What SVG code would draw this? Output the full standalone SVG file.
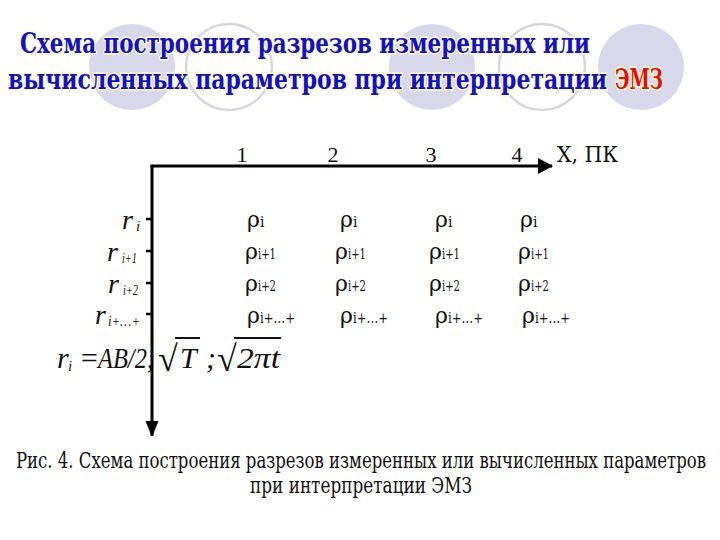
<svg xmlns="http://www.w3.org/2000/svg" width="720" height="540" viewBox="0 0 720 540">
<style>
text{font-family:"DejaVu Serif","Liberation Serif",serif}
.lat{font-family:"Liberation Serif","DejaVu Serif",serif}
.bgf{fill:#d8d8eb;stroke:none}
.bgo{fill:#ffffff;stroke:#d6d6e2;stroke-width:2.5}
.title{font-weight:bold;font-size:28px;fill:#1212c4;stroke:#fffcc8;stroke-width:3;paint-order:stroke;stroke-linejoin:round}
.red{fill:#e01010}
.ax{stroke:#000;stroke-width:3;fill:none}
.tick{stroke:#000;stroke-width:2.5}
.num{font-size:22px;fill:#111}
.rho{font-size:22px;fill:#111}
.sub{font-size:14px;fill:#111}
.r{font-style:italic;font-size:28px;fill:#111}
.rs{font-style:italic;font-size:15px;fill:#111}
.f{font-style:italic;font-size:30px;fill:#111}
.fr{font-size:36px;fill:#111}
.cap{font-size:22px;fill:#111}
</style>
<defs>
<marker id="ah" markerWidth="16" markerHeight="16" refX="14" refY="8" orient="auto" markerUnits="userSpaceOnUse">
<path d="M0,0 L15,8 L0,16 z" fill="#000"/>
</marker>
<marker id="av" markerWidth="14" markerHeight="17" refX="15" refY="6.5" orient="auto" markerUnits="userSpaceOnUse">
<path d="M0,0 L16,6.5 L0,13 z" fill="#000"/>
</marker>
</defs>
<rect width="720" height="540" fill="#ffffff"/>
<g id="background">
<circle class="bgf" cx="132" cy="67" r="43"/>
<circle class="bgo" cx="229" cy="67" r="43"/>
<circle class="bgf" cx="432" cy="67" r="43"/>
<circle class="bgo" cx="542" cy="67" r="43"/>
<circle class="bgf" cx="641" cy="67" r="43"/>
</g>
<g id="title">
<text class="title" x="20" y="53" textLength="570" lengthAdjust="spacingAndGlyphs">Схема построения разрезов измеренных или</text>
<text class="title" y="89"><tspan x="8" textLength="599" lengthAdjust="spacingAndGlyphs">вычисленных параметров при интерпретации</tspan><tspan class="red" x="615" textLength="48" lengthAdjust="spacingAndGlyphs">ЭМЗ</tspan></text>
</g>
<g id="connectors">
<line class="ax" x1="150.5" y1="166" x2="552" y2="166" marker-end="url(#ah)"/>
<line class="ax" x1="152" y1="165" x2="152" y2="436" marker-end="url(#av)"/>
<line class="tick" x1="146" y1="219" x2="152" y2="219"/>
<line class="tick" x1="146" y1="251" x2="152" y2="251"/>
<line class="tick" x1="146" y1="283" x2="152" y2="283"/>
<line class="tick" x1="146" y1="314" x2="152" y2="314"/>
</g>
<g id="x-labels" class="lat">
<text class="num lat" x="242" y="162" text-anchor="middle">1</text>
<text class="num lat" x="333" y="162" text-anchor="middle">2</text>
<text class="num lat" x="431" y="162" text-anchor="middle">3</text>
<text class="num lat" x="517" y="162" text-anchor="middle">4</text>
<text class="num" x="557" y="162" textLength="61" lengthAdjust="spacingAndGlyphs">X, ПК</text>
</g>
<g id="r-labels">
<text class="r lat" x="122" y="229">r<tspan class="rs" x="136" dy="2">i</tspan></text>
<text class="r lat" x="107" y="261">r<tspan class="rs" x="122" dy="2" textLength="15" lengthAdjust="spacingAndGlyphs">i+1</tspan></text>
<text class="r lat" x="108" y="293">r<tspan class="rs" x="123" dy="2" textLength="15" lengthAdjust="spacingAndGlyphs">i+2</tspan></text>
<text class="r lat" x="95" y="324" fill="#333">r<tspan class="rs" x="108" dy="2" textLength="32" lengthAdjust="spacingAndGlyphs" fill="#333">i+…+</tspan></text>
</g>
<g id="rho-row-1">
<text class="rho" x="247" y="227">ρ<tspan class="sub">i</tspan></text>
<text class="rho" x="340" y="227">ρ<tspan class="sub">i</tspan></text>
<text class="rho" x="435" y="227">ρ<tspan class="sub">i</tspan></text>
<text class="rho" x="520" y="227">ρ<tspan class="sub">i</tspan></text>
</g>
<g id="rho-row-2">
<text class="rho" x="245" y="259">ρ<tspan class="sub" textLength="18" lengthAdjust="spacingAndGlyphs">i+1</tspan></text>
<text class="rho" x="335" y="259">ρ<tspan class="sub" textLength="18" lengthAdjust="spacingAndGlyphs">i+1</tspan></text>
<text class="rho" x="429" y="259">ρ<tspan class="sub" textLength="18" lengthAdjust="spacingAndGlyphs">i+1</tspan></text>
<text class="rho" x="518" y="259">ρ<tspan class="sub" textLength="18" lengthAdjust="spacingAndGlyphs">i+1</tspan></text>
</g>
<g id="rho-row-3">
<text class="rho" x="245" y="291">ρ<tspan class="sub" textLength="18" lengthAdjust="spacingAndGlyphs">i+2</tspan></text>
<text class="rho" x="335" y="291">ρ<tspan class="sub" textLength="18" lengthAdjust="spacingAndGlyphs">i+2</tspan></text>
<text class="rho" x="429" y="291">ρ<tspan class="sub" textLength="18" lengthAdjust="spacingAndGlyphs">i+2</tspan></text>
<text class="rho" x="518" y="291">ρ<tspan class="sub" textLength="18" lengthAdjust="spacingAndGlyphs">i+2</tspan></text>
</g>
<g id="rho-row-4">
<text class="rho" x="247" y="323">ρ<tspan class="sub" textLength="35" lengthAdjust="spacingAndGlyphs">i+…+</tspan></text>
<text class="rho" x="340" y="323">ρ<tspan class="sub" textLength="35" lengthAdjust="spacingAndGlyphs">i+…+</tspan></text>
<text class="rho" x="435" y="323">ρ<tspan class="sub" textLength="35" lengthAdjust="spacingAndGlyphs">i+…+</tspan></text>
<text class="rho" x="522" y="323">ρ<tspan class="sub" textLength="35" lengthAdjust="spacingAndGlyphs">i+…+</tspan></text>
</g>
<g id="formula">
<text class="f lat" x="57" y="368">r<tspan class="rs" x="68" dy="3">i</tspan></text>
<text class="f lat" x="79" y="368" font-style="normal">=</text>
<text class="f lat" x="98" y="368" textLength="57" lengthAdjust="spacingAndGlyphs">AB/2;</text>
<text class="fr lat" x="158" y="371">√<tspan class="f" x="180" y="368" font-size="32">T</tspan></text>
<line x1="175" y1="338" x2="200" y2="338" stroke="#111" stroke-width="2"/>
<text class="f lat" x="206" y="368">;</text>
<text class="fr lat" x="217" y="371">√<tspan class="f" x="237" y="368" font-size="32" textLength="43" lengthAdjust="spacingAndGlyphs">2πt</tspan></text>
<line x1="234" y1="338" x2="281" y2="338" stroke="#111" stroke-width="2"/>
</g>
<g id="caption">
<text class="cap" x="16" y="468" textLength="690" lengthAdjust="spacingAndGlyphs">Рис. 4. Схема построения разрезов измеренных или вычисленных параметров</text>
<text class="cap" x="250" y="493" textLength="222" lengthAdjust="spacingAndGlyphs">при интерпретации ЭМЗ</text>
</g>
</svg>
